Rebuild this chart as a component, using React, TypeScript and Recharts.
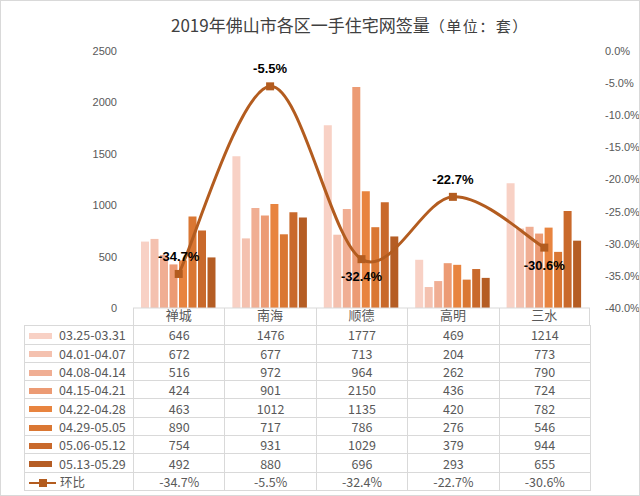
import React from 'react';
import { ComposedChart, Bar, Line, XAxis, YAxis, LabelList } from 'recharts';

const categories = ['禅城', '南海', '顺德', '高明', '三水'];
const weeks = ['03.25-03.31', '04.01-04.07', '04.08-04.14', '04.15-04.21', '04.22-04.28', '04.29-05.05', '05.06-05.12', '05.13-05.29'];
const w1 = [646, 1476, 1777, 469, 1214];
const w2 = [672, 677, 713, 204, 773];
const w3 = [516, 972, 964, 262, 790];
const w4 = [424, 901, 2150, 436, 724];
const w5 = [463, 1012, 1135, 420, 782];
const w6 = [890, 717, 786, 276, 546];
const w7 = [754, 931, 1029, 379, 944];
const w8 = [492, 880, 696, 293, 655];
const huanbi = [-34.7, -5.5, -32.4, -22.7, -30.6];
const leftTicks = [0, 500, 1000, 1500, 2000, 2500];
const rightTicks = [-40, -35, -30, -25, -20, -15, -10, -5, 0];
const seriesLabelBelow = [false, false, true, false, true];

const weekSeries = [w1, w2, w3, w4, w5, w6, w7, w8];
const colors = ['#F8D1C5', '#F4C1AF', '#F0AE93', '#EC9B74', '#E8843F', '#DA7733', '#C9692B', '#B55D24'];
const lineColor = '#B35C1F';

const data = categories.map((name, i) => {
  const row: any = { name, hb: huanbi[i] };
  weekSeries.forEach((s, k) => { row['w' + k] = s[i]; });
  return row;
});

// Excel-like smoothing (Catmull-Rom style Bezier)
const smoothCurve: any = (context: any) => {
  let pts: number[][] = [];
  return {
    areaStart() {},
    areaEnd() {},
    lineStart() { pts = []; },
    point(x: number, y: number) { pts.push([+x, +y]); },
    lineEnd() {
      if (!pts.length) return;
      context.moveTo(pts[0][0], pts[0][1]);
      for (let i = 0; i < pts.length - 1; i++) {
        const p0 = pts[i - 1] || pts[i];
        const p1 = pts[i];
        const p2 = pts[i + 1];
        const p3 = pts[i + 2] || pts[i + 1];
        const c1x = p1[0] + (p2[0] - p0[0]) / 6;
        const c1y = p1[1] + (p2[1] - p0[1]) / 6;
        const c2x = p2[0] - (p3[0] - p1[0]) / 6;
        const c2y = p2[1] - (p3[1] - p1[1]) / 6;
        context.bezierCurveTo(c1x, c1y, c2x, c2y, p2[0], p2[1]);
      }
    },
  };
};

const SquareDot = (props: any) => {
  const { cx, cy } = props;
  if (cx == null || cy == null) return null;
  return <rect x={cx - 4} y={cy - 4} width={8} height={8} fill={lineColor} />;
};

const HbLabel = (props: any) => {
  const { x, y, value, index } = props;
  const below = seriesLabelBelow[index];
  return (
    <text x={x} y={below ? y + 22 : y - 13} textAnchor="middle" fontFamily="Liberation Sans, Arial, sans-serif"
      fontWeight="bold" fontSize={13} fill="#000">
      {`${value.toFixed(1)}%`}
    </text>
  );
};

const FONT = '"Noto Sans CJK SC", "Liberation Sans", sans-serif';
const border = '1px solid #D9D9D9';

export default function App() {
  const colW = (589 - 132) / 5;
  const rowH = 17.3;
  return (
    <div style={{ position: 'absolute', left: 0, top: 0, width: 640, height: 496, background: '#fff', boxSizing: 'border-box', border: '1px solid #D9D9D9', overflow: 'hidden' }}>
      <div style={{ position: 'absolute', left: 0, top: 0, width: 640, height: 496 }}>
        <ComposedChart width={640} height={496} data={data}
          margin={{ top: 50, right: 6, left: 92, bottom: 172 }}
          barCategoryGap={8} barGap={1.5}>
          <XAxis dataKey="name" height={17} tickLine={false} tickSize={0} tickMargin={3}
            axisLine={{ stroke: '#D9D9D9' }}
            tick={{ fontSize: 13, fill: '#595959', fontFamily: FONT }} />
          <YAxis yAxisId="l" domain={[0, 2500]} ticks={leftTicks} width={40} axisLine={false} tickLine={false}
            tickMargin={10} tick={{ fontSize: 11, fill: '#595959', fontFamily: 'Liberation Sans, sans-serif' }} />
          <YAxis yAxisId="r" orientation="right" domain={[-40, 0]} ticks={rightTicks} width={45} axisLine={false}
            tickLine={false} tickMargin={9}
            tickFormatter={(v: number) => `${v.toFixed(1)}%`}
            tick={{ fontSize: 11, fill: '#595959', fontFamily: 'Liberation Sans, sans-serif' }} />
          {weekSeries.map((_, k) => (
            <Bar key={k} yAxisId="l" dataKey={'w' + k} name={weeks[k]} fill={colors[k]} isAnimationActive={false} />
          ))}
          <Line yAxisId="r" dataKey="hb" name="环比" type={smoothCurve} stroke={lineColor} strokeWidth={3}
            dot={<SquareDot />} activeDot={false} isAnimationActive={false}>
            <LabelList dataKey="hb" content={<HbLabel />} />
          </Line>
        </ComposedChart>
      </div>
      <div style={{ position: 'absolute', left: 0, top: 0, width: 640, textAlign: 'left', fontFamily: FONT, color: '#404040' }}>
        <div style={{ position: 'absolute', left: 170, top: 10, whiteSpace: 'nowrap', lineHeight: '28px' }}>
          <span style={{ fontSize: 17 }}>2019年佛山市各区一手住宅网签量</span>
          <span style={{ fontSize: 15, letterSpacing: 1.5 }}>（单位：套）</span>
        </div>
      </div>
      {/* header row vertical lines */}
      {categories.map((c, i) => (
        <div key={c} style={{ position: 'absolute', left: 132 + i * colW, top: 307, width: colW, height: rowH,
          borderLeft: border, borderRight: i === categories.length - 1 ? border : 'none', boxSizing: 'border-box' }} />
      ))}
      <table style={{ position: 'absolute', left: 23, top: 307 + rowH, borderCollapse: 'collapse', tableLayout: 'fixed',
        fontFamily: FONT, fontSize: 12.5, color: '#595959' }}>
        <colgroup>
          <col style={{ width: 109 }} />
          {categories.map((c) => <col key={c} style={{ width: colW }} />)}
        </colgroup>
        <tbody>
          {weeks.map((w, k) => (
            <tr key={w} style={{ height: rowH }}>
              <td style={{ border, padding: 0, whiteSpace: 'nowrap', height: rowH, lineHeight: '15px' }}>
                <span style={{ display: 'inline-block', width: 23, height: 6, background: colors[k], margin: '0 7px 2px 4px', verticalAlign: 'middle' }} />
                {w}
              </td>
              {weekSeries[k].map((v, i) => (
                <td key={i} style={{ border, padding: 0, textAlign: 'center', height: rowH, lineHeight: '15px' }}>{v}</td>
              ))}
            </tr>
          ))}
          <tr style={{ height: rowH }}>
            <td style={{ border, padding: 0, whiteSpace: 'nowrap', height: rowH, lineHeight: '15px' }}>
              <span style={{ position: 'relative', display: 'inline-block', width: 27, height: 8, margin: '0 4px 1px 4px', verticalAlign: 'middle' }}>
                <span style={{ position: 'absolute', left: 0, top: 3, width: 27, height: 2.5, background: lineColor }} />
                <span style={{ position: 'absolute', left: 10, top: 0, width: 8, height: 8, background: lineColor }} />
              </span>
              环比
            </td>
            {huanbi.map((v, i) => (
              <td key={i} style={{ border, padding: 0, textAlign: 'center', height: rowH, lineHeight: '15px' }}>{`${v.toFixed(1)}%`}</td>
            ))}
          </tr>
        </tbody>
      </table>
    </div>
  );
}
